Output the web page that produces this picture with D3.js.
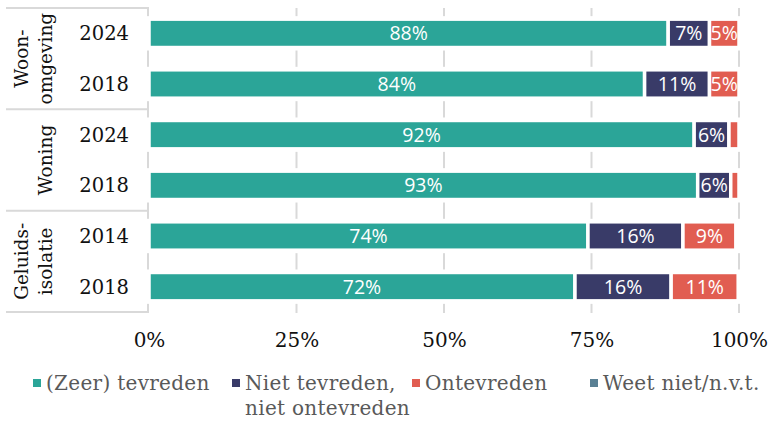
<!DOCTYPE html>
<html>
<head>
<meta charset="utf-8">
<script src="https://cdn.jsdelivr.net/npm/d3@7"></script>
<style>
  html, body { margin: 0; padding: 0; background: #fff; }
  svg { display: block; }
</style>
</head>
<body>
<svg id="chart" width="771" height="421"></svg>
<script>
// ─── Data ─────────────────────────────────────────────────────────────────
const groups     = [['Woon-', 'omgeving'], ['Woning'], ['Geluids-', 'isolatie']];
const groupRows  = [2, 2, 2];
const years      = ['2024', '2018', '2024', '2018', '2014', '2018'];
const tevreden   = [88, 84, 92.4, 93, 74.4, 72.2];
const neutraal   = [7, 11, 5.9, 5.6, 16.1, 16.3];
const ontevreden = [5, 5, 1.7, 1.4, 9.0, 11.4];
const weetNiet   = [0, 0, 0, 0, 0.5, 0.1];
const seriesNames  = ['(Zeer) tevreden', 'Niet tevreden,\nniet ontevreden', 'Ontevreden', 'Weet niet/n.v.t.'];
const seriesColors = ['#2ba598', '#393b68', '#e15d51', '#5a8094'];
const tickValues   = [0, 0.25, 0.5, 0.75, 1];

const SERIF = '"DejaVu Serif", serif';
const SANS  = '"Open Sans", sans-serif';

const svg = d3.select('#chart');

const rows = years.map((y, i) => ({
  key: i, year: y,
  values: [tevreden[i], neutraal[i], ontevreden[i], weetNiet[i]]
}));

// ─── Scales ───────────────────────────────────────────────────────────────
const x = d3.scaleLinear().domain([0, 1]).range([149, 739]);
const y = d3.scaleBand()
  .domain(rows.map(d => d.key))
  .range([8, 312])
  .paddingInner(0.44)
  .paddingOuter(0.22);

// ── Gridlines ────────────────────────────────────────────────────────────
svg.append('g')
  .selectAll('line')
  .data(tickValues.slice(1))
  .join('line')
  .attr('x1', d => x(d)).attr('x2', d => x(d))
  .attr('y1', 8).attr('y2', 313)
  .attr('stroke', '#d9d9d9')
  .attr('stroke-width', 2);

// ── Left frame (group / year table) ──────────────────────────────────────
const frame = svg.append('g');
let acc = 0;
const bounds = [y.range()[0]];
groupRows.forEach(n => { acc += n; bounds.push(acc === rows.length ? 312 : (y(acc - 1) + y.bandwidth() + y(acc)) / 2); });
frame.selectAll('line.h')
  .data(bounds)
  .join('line')
  .attr('class', 'h')
  .attr('x1', 6).attr('x2', 148)
  .attr('y1', d => d).attr('y2', d => d)
  .attr('stroke', '#d9d9d9').attr('stroke-width', 2);
frame.append('line')
  .attr('x1', 148).attr('x2', 148)
  .attr('y1', bounds[0] - 1).attr('y2', bounds[bounds.length - 1] + 1)
  .attr('stroke', '#d9d9d9').attr('stroke-width', 2);

// group labels, rotated
groups.forEach((lines, gi) => {
  const cy = (bounds[gi] + bounds[gi + 1]) / 2;
  const t = frame.append('text')
    .attr('transform', `translate(52,${cy}) rotate(-90)`)
    .attr('text-anchor', 'middle')
    .attr('fill', '#111')
    .style('font-family', SERIF)
    .style('font-size', '18.5px');
  lines.forEach((ln, li) => {
    t.append('tspan')
      .attr('x', 0)
      .attr('y', -(lines.length - 1 - li) * 24)
      .text(ln);
  });
});

// year labels
frame.selectAll('text.year')
  .data(rows)
  .join('text')
  .attr('class', 'year')
  .attr('x', 129)
  .attr('y', d => y(d.key) + y.bandwidth() / 2)
  .attr('dy', '0.36em')
  .attr('text-anchor', 'end')
  .attr('fill', '#111')
  .style('font-family', SERIF)
  .style('font-size', '19.5px')
  .text(d => d.year);

// ── Bars ─────────────────────────────────────────────────────────────────
const stacked = rows.map(r => {
  let s = 0;
  return r.values.map((v, si) => {
    const seg = { row: r.key, si, v, x0: s / 100, x1: (s + v) / 100 };
    s += v;
    return seg;
  });
});

const gRows = svg.append('g')
  .selectAll('g')
  .data(stacked)
  .join('g');

// white halo behind each bar (hides the gridlines around it)
gRows.append('rect')
  .attr('x', x(0) - 4)
  .attr('y', d => y(d[0].row) - 3)
  .attr('width', x(1) - x(0) + 8)
  .attr('height', y.bandwidth() + 6)
  .attr('fill', '#fff');

gRows.selectAll('rect.seg')
  .data(d => d.filter(s => s.v > 0))
  .join('rect')
  .attr('class', 'seg')
  .attr('x', s => x(s.x0))
  .attr('y', s => y(s.row))
  .attr('width', s => x(s.x1) - x(s.x0))
  .attr('height', y.bandwidth())
  .attr('fill', s => seriesColors[s.si])
  .attr('stroke', '#fff')
  .attr('stroke-width', 3.5);

gRows.selectAll('text.lbl')
  .data(d => d.filter(s => s.v >= 3))
  .join('text')
  .attr('class', 'lbl')
  .attr('x', s => (x(s.x0) + x(s.x1)) / 2)
  .attr('y', s => y(s.row) + y.bandwidth() / 2)
  .attr('dy', '0.36em')
  .attr('text-anchor', 'middle')
  .attr('fill', '#fff')
  .style('font-family', SANS)
  .style('font-size', '19.5px')
  .text(s => d3.format('.0f')(s.v) + '%');

// ── X axis labels ────────────────────────────────────────────────────────
const xAxis = svg.append('g')
  .attr('transform', 'translate(0,340)')
  .call(d3.axisBottom(x).tickValues(tickValues).tickFormat(d3.format('.0%')).tickSize(0).tickPadding(0));
xAxis.select('.domain').remove();
xAxis.selectAll('text')
  .attr('dy', '0.36em')
  .attr('fill', '#111')
  .style('font-family', SERIF)
  .style('font-size', '20px');

// ── Legend ───────────────────────────────────────────────────────────────
const legendX = [33, 232, 412, 590];
const legend = svg.append('g')
  .selectAll('g')
  .data(seriesNames)
  .join('g')
  .attr('transform', (d, i) => `translate(${legendX[i]},383)`);
legend.append('rect')
  .attr('x', 0).attr('y', -4)
  .attr('width', 8).attr('height', 8)
  .attr('fill', (d, i) => seriesColors[i]);
legend.append('text')
  .attr('fill', '#595959')
  .style('font-family', SERIF)
  .style('font-size', '20px')
  .style('letter-spacing', '0.3px')
  .selectAll('tspan')
  .data(d => d.split('\n'))
  .join('tspan')
  .attr('x', 13)
  .attr('y', (d, i) => i * 25)
  .attr('dy', '0.36em')
  .text(d => d);
</script>
</body>
</html>
